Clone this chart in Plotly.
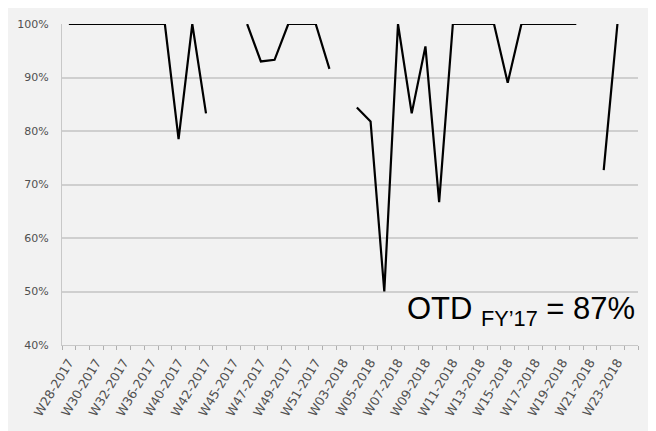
import plotly.graph_objects as go

weeks = ["W28-2017", "W29-2017", "W30-2017", "W31-2017", "W32-2017", "W34-2017",
         "W36-2017", "W38-2017", "W40-2017", "W41-2017", "W42-2017", "W44-2017",
         "W45-2017", "W46-2017", "W47-2017", "W48-2017", "W49-2017", "W50-2017",
         "W51-2017", "W52-2017", "W03-2018", "W04-2018", "W05-2018", "W06-2018",
         "W07-2018", "W08-2018", "W09-2018", "W10-2018", "W11-2018", "W12-2018",
         "W13-2018", "W14-2018", "W15-2018", "W16-2018", "W17-2018", "W18-2018",
         "W19-2018", "W20-2018", "W21-2018", "W22-2018", "W23-2018", "W24-2018"]

otd = [1.00, 1.00, 1.00, 1.00, 1.00, 1.00, 1.00, 1.00, 0.785, 1.00,
       0.833, None, None, 1.00, 0.930, 0.933, 1.00, 1.00, 1.00, 0.916,
       None, 0.844, 0.818, 0.50, 1.00, 0.833, 0.958, 0.667, 1.00, 1.00,
       1.00, 1.00, 0.890, 1.00, 1.00, 1.00, 1.00, 1.00, None, 0.727,
       1.00, None]

y_ticks = [0.4, 0.5, 0.6, 0.7, 0.8, 0.9, 1.0]
label_text = "OTD <sub>FY’17</sub> = 87%"

idx = list(range(len(weeks)))
shown = idx[::2]

fig = go.Figure()
fig.add_trace(go.Scatter(x=idx, y=otd, mode="lines",
                         line=dict(color="black", width=2.2),
                         connectgaps=False, hoverinfo="skip",
                         showlegend=False))

fig.update_layout(
    width=656, height=431,
    margin=dict(l=54, r=26, t=16, b=94),
    paper_bgcolor="#f2f2f2",
    plot_bgcolor="#f2f2f2",
    font=dict(family="DejaVu Sans, sans-serif", color="#505050"),
    annotations=[dict(text=label_text, xref="paper", yref="paper",
                      x=0.998, y=0.036, xanchor="right", yanchor="bottom",
                      showarrow=False,
                      font=dict(family="Liberation Sans, Arial, sans-serif",
                                size=31, color="black"))],
)

fig.update_xaxes(
    range=[-0.5, len(weeks) - 0.5], automargin=False,
    tickmode="array", tickvals=shown, ticktext=[weeks[i] for i in shown],
    tickangle=-59, ticks="", showgrid=False, zeroline=False,
    showline=True, linecolor="#c8c8c8", linewidth=1.2,
    ticklabelstandoff=4,
    tickfont=dict(family="DejaVu Sans, sans-serif", size=12.5, color="#505050"),
    minor=dict(tickmode="linear", tick0=0.5, dtick=1, ticks="outside",
               ticklen=4, tickcolor="#b0b0b0", tickwidth=1, showgrid=False),
)

fig.update_yaxes(
    range=[0.4, 1.0], automargin=False, tickmode="array", tickvals=y_ticks,
    tickformat=".0%", showgrid=True, gridcolor="#cfcfcf", gridwidth=1.5,
    zeroline=False, showline=True, linecolor="#c8c8c8", linewidth=1.2,
    ticks="", ticklen=0, ticklabelstandoff=10,
    tickfont=dict(family="DejaVu Sans, sans-serif", size=11, color="#505050"),
)

fig.write_html("out.html")
